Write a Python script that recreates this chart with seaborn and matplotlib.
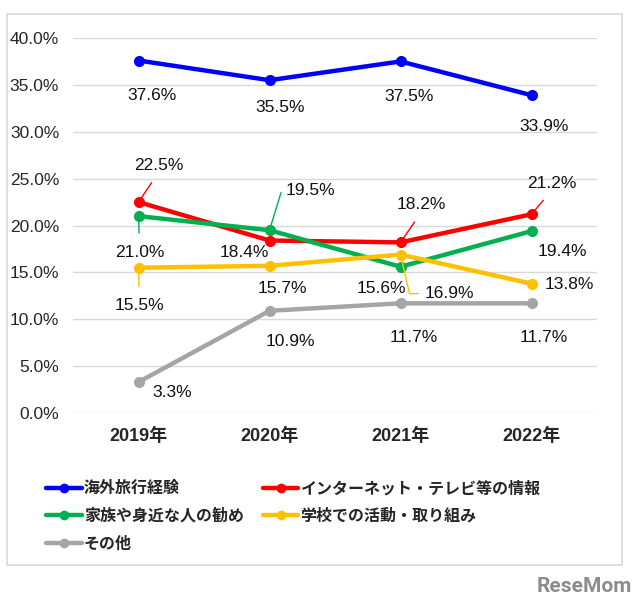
import pandas as pd
import matplotlib.pyplot as plt
import seaborn as sns
from matplotlib.patches import Rectangle
from matplotlib.lines import Line2D

years = ['2019年', '2020年', '2021年', '2022年']
kaigai = [37.6, 35.5, 37.5, 33.9]
internet = [22.5, 18.4, 18.2, 21.2]
kazoku = [21.0, 19.5, 15.6, 19.4]
gakko = [15.5, 15.7, 16.9, 13.8]
sonota = [3.3, 10.9, 11.7, 11.7]
names = ['海外旅行経験', 'インターネット・テレビ等の情報', '家族や身近な人の勧め', '学校での活動・取り組み', 'その他']
colors = ['#0000FF', '#FF0000', '#00B050', '#FFC000', '#A5A5A5']
yticks = [0, 5, 10, 15, 20, 25, 30, 35, 40]

sns.set_theme(style='white')
plt.rcParams['font.family'] = ['Liberation Sans', 'Noto Sans CJK JP', 'DejaVu Sans']

rows = []
for n, vals in zip(names, [kaigai, internet, kazoku, gakko, sonota]):
    for i, v in enumerate(vals):
        rows.append({'series': n, 'x': i, 'value': v})
df = pd.DataFrame(rows)

fig = plt.figure(figsize=(6.4, 6.11), dpi=100)
fig.patches.append(Rectangle((7/640, 1-565/611), 615/640, 551/611, transform=fig.transFigure,
                             fill=False, edgecolor='#D9D9D9', lw=1.2))
ax = fig.add_axes([73/640, 1-413/611, 524/640, 375/611])

for y in yticks:
    ax.axhline(y, color='#D9D9D9', lw=1, zorder=0)

sns.lineplot(data=df, x='x', y='value', hue='series', hue_order=names, palette=colors,
             marker='o', markersize=8, markeredgewidth=0, linewidth=3.2, legend=False, ax=ax)

ax.set_xlim(-0.5, 3.5)
ax.set_ylim(0, 40)
ax.set_xticks(range(4))
ax.set_xticklabels(years, fontsize=13, fontweight='bold')
ax.set_yticks(yticks)
ax.set_yticklabels([f'{v:.1f}%' for v in yticks], fontsize=12.5)
ax.tick_params(axis='both', length=0)
ax.tick_params(axis='y', pad=10)
ax.tick_params(axis='x', pad=11)
ax.set_xlabel('')
ax.set_ylabel('')
for s in ax.spines.values():
    s.set_visible(False)

# label offsets in pixels (dx, dy) and leader style
offsets = {
    names[0]: [(13, -35, None), (11, -27, None), (9, -35, None), (13, -31, None)],
    names[1]: [(20, 37, 'line'), (-25, -12, None), (21, 38, 'line'), (20, 31, 'line')],
    names[2]: [(1, -36, 'line'), (41, 40, 'elbow'), (-19, -22, None), (31, -20, None)],
    names[3]: [(1, -38, 'line'), (13, -23, None), (49, -39, 'elbow'), (38, -1, None)],
    names[4]: [(34, -10, None), (21, -31, None), (13, -34, None), (12, -34, None)],
}
series_vals = dict(zip(names, [kaigai, internet, kazoku, gakko, sonota]))
for n, c in zip(names, colors):
    for i, v in enumerate(series_vals[n]):
        dx, dy, lead = offsets[n][i]
        label = f'{v:.1f}%'
        kw = dict(xytext=(dx, dy), textcoords='offset pixels', ha='center', va='center',
                  fontsize=12.5, color='#111111')
        if lead is None:
            ax.annotate(label, (i, v), **kw)
        elif lead == 'line':
            rel = (0.5, 0) if dy > 0 else (0.5, 1)
            ax.annotate(label, (i, v), **kw,
                        arrowprops=dict(arrowstyle='-', color=c, lw=1, relpos=rel,
                                        shrinkA=6, shrinkB=3))
        else:
            ang = 73 if dy > 0 else -77
            ax.annotate(label, (i, v), **kw,
                        arrowprops=dict(arrowstyle='-', color=c, lw=1, relpos=(0, 0.5),
                                        shrinkA=2, shrinkB=3,
                                        connectionstyle=f'angle,angleA=0,angleB={ang},rad=0'))

order = [0, 2, 4, 1, 3]
handles = [Line2D([0], [0], color=colors[k], lw=3.2, marker='o', markersize=7, markeredgewidth=0) for k in order]
leg = fig.legend(handles, [names[k] for k in order], ncol=2, loc='upper left',
                 bbox_to_anchor=(32/640, 1-466/611), frameon=False, handlelength=2.2,
                 handletextpad=0.15, columnspacing=1.2, labelspacing=0.72,
                 prop={'size': 11.5, 'weight': 'bold', 'family': ['Noto Sans CJK JP', 'DejaVu Sans']})

fig.text(632/640, 1-586/611, 'ReseMom', ha='right', va='center', fontsize=15,
         fontweight='bold', color='#8C8C8C', family='Roboto', stretch='condensed')

fig.savefig('out.png', dpi=100)
